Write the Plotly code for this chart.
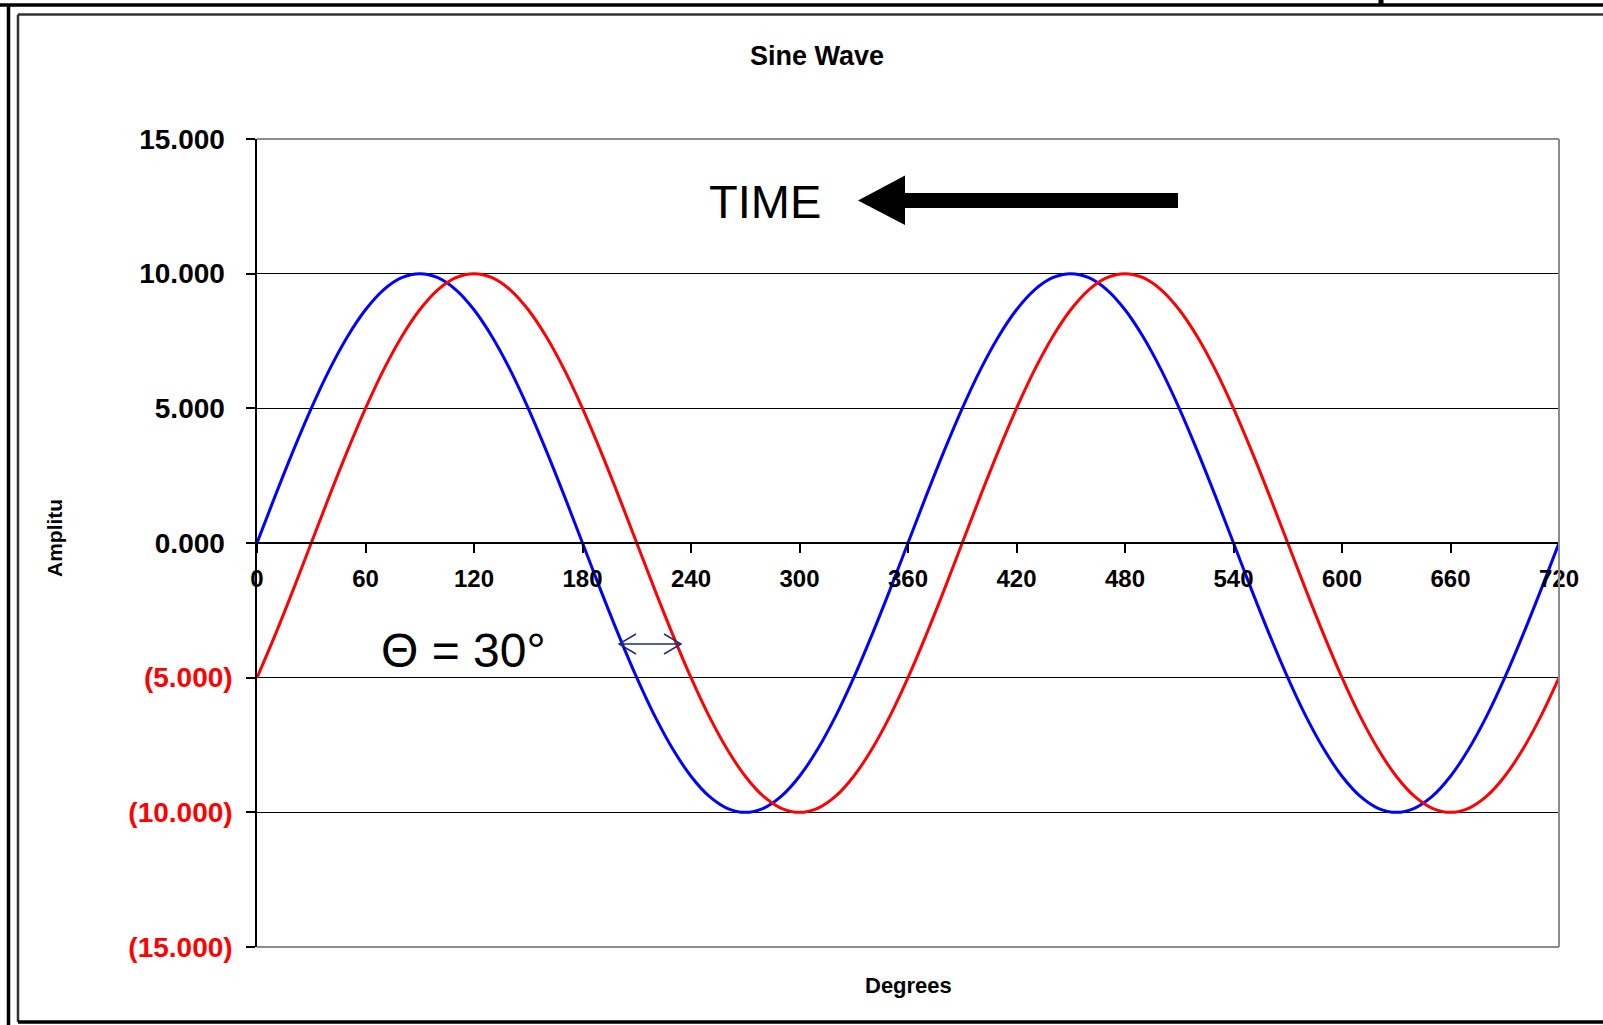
import plotly.graph_objects as go

# ---------------- data ----------------
DEGREES = list(range(0, 721, 10))

REFERENCE_WAVE = [
    0.00, 1.74, 3.42, 5.00, 6.43, 7.66, 8.66, 9.40, 9.85, 10.00, 9.85, 9.40,
    8.66, 7.66, 6.43, 5.00, 3.42, 1.74, 0.00, -1.74, -3.42, -5.00, -6.43, -7.66,
    -8.66, -9.40, -9.85, -10.00, -9.85, -9.40, -8.66, -7.66, -6.43, -5.00, -3.42, -1.74,
    0.00, 1.74, 3.42, 5.00, 6.43, 7.66, 8.66, 9.40, 9.85, 10.00, 9.85, 9.40,
    8.66, 7.66, 6.43, 5.00, 3.42, 1.74, 0.00, -1.74, -3.42, -5.00, -6.43, -7.66,
    -8.66, -9.40, -9.85, -10.00, -9.85, -9.40, -8.66, -7.66, -6.43, -5.00, -3.42, -1.74,
    0.00,
]

SHIFTED_WAVE = [
    -5.00, -3.42, -1.74, 0.00, 1.74, 3.42, 5.00, 6.43, 7.66, 8.66, 9.40, 9.85,
    10.00, 9.85, 9.40, 8.66, 7.66, 6.43, 5.00, 3.42, 1.74, 0.00, -1.74, -3.42,
    -5.00, -6.43, -7.66, -8.66, -9.40, -9.85, -10.00, -9.85, -9.40, -8.66, -7.66, -6.43,
    -5.00, -3.42, -1.74, 0.00, 1.74, 3.42, 5.00, 6.43, 7.66, 8.66, 9.40, 9.85,
    10.00, 9.85, 9.40, 8.66, 7.66, 6.43, 5.00, 3.42, 1.74, 0.00, -1.74, -3.42,
    -5.00, -6.43, -7.66, -8.66, -9.40, -9.85, -10.00, -9.85, -9.40, -8.66, -7.66, -6.43,
    -5.00,
]

X_TICKS = [0, 60, 120, 180, 240, 300, 360, 420, 480, 540, 600, 660, 720]
Y_TICKS = [15, 10, 5, 0, -5, -10, -15]
Y_TICK_TEXT = ["15.000", "10.000", "5.000", "0.000", "(5.000)", "(10.000)", "(15.000)"]

# ---------------- layout geometry (pixels) ----------------
W, H = 1603, 1025
L, R, T, B = 257, 44, 139, 78
PW, PH = W - L - R, H - T - B


def px(x):
    return (x - L) / PW


def py(y):
    return (H - B - y) / PH


FONT = "Liberation Sans, Arial, sans-serif"

fig = go.Figure()
fig.add_trace(go.Scatter(x=DEGREES, y=REFERENCE_WAVE, mode="lines",
                         line=dict(color="#0000FF", width=3, shape="spline"),
                         name="Reference"))
fig.add_trace(go.Scatter(x=DEGREES, y=SHIFTED_WAVE, mode="lines",
                         line=dict(color="#FF0000", width=3, shape="spline"),
                         name="Shifted"))

ytext = []
for v, t in zip(Y_TICKS, Y_TICK_TEXT):
    if v < 0:
        ytext.append('<span style="color:#FF0000">' + t + "</span>")
    else:
        ytext.append(t + "\u00a0")

shapes = []
# plot-area grey border (top, right, bottom)
for (x0, y0, x1, y1) in [(0, 1, 1, 1), (1, 0, 1, 1), (0, 0, 1, 0)]:
    shapes.append(dict(type="line", xref="paper", yref="paper", x0=x0, y0=y0, x1=x1, y1=y1,
                       line=dict(color="#8C8C8C", width=2), layer="above"))


def pline(x0, y0, x1, y1, color, width):
    shapes.append(dict(type="line", xref="paper", yref="paper",
                       x0=px(x0), y0=py(y0), x1=px(x1), y1=py(y1),
                       line=dict(color=color, width=width), layer="above"))


# outer frame
pline(0, 5, W, 5, "#000000", 3.5)
pline(8.5, 5, 8.5, H, "#000000", 3.5)
pline(18, 14.5, W, 14.5, "#333333", 2.5)
pline(18, 14.5, 18, 1022, "#333333", 2.5)
pline(18, 1022, W, 1022, "#000000", 3.5)
pline(1381, 0, 1381, 6, "#000000", 5)

# TIME arrow (shaft + head)
shapes.append(dict(type="rect", xref="paper", yref="paper",
                   x0=px(903), x1=px(1178), y0=py(208), y1=py(193),
                   fillcolor="#000000", line=dict(width=0), layer="above"))
shapes.append(dict(type="path", xref="paper", yref="paper",
                   path=f"M {px(858)} {py(200.5)} L {px(905)} {py(175.5)} L {px(905)} {py(225)} Z",
                   fillcolor="#000000", line=dict(width=0), layer="above"))

# theta double arrow
NAVY = "#1F2F6B"
pline(619, 644, 681, 644, NAVY, 1.5)
shapes.append(dict(type="path", xref="paper", yref="paper",
                   path=f"M {px(636)} {py(634)} L {px(619)} {py(644)} L {px(636)} {py(654)}",
                   line=dict(color=NAVY, width=1.5), layer="above"))
shapes.append(dict(type="path", xref="paper", yref="paper",
                   path=f"M {px(664)} {py(634)} L {px(681)} {py(644)} L {px(664)} {py(654)}",
                   line=dict(color=NAVY, width=1.5), layer="above"))

annotations = [
    dict(text="Sine Wave", xref="paper", yref="paper", x=px(817), y=py(56),
         showarrow=False, xanchor="center", yanchor="middle",
         font=dict(family=FONT, size=27, color="#000000", weight="bold")),
    dict(text="Degrees", xref="paper", yref="paper", x=px(908), y=py(985),
         showarrow=False, xanchor="center", yanchor="middle",
         font=dict(family=FONT, size=22, color="#000000", weight="bold")),
    dict(text="Amplitu", xref="paper", yref="paper", x=px(54), y=py(538),
         showarrow=False, xanchor="center", yanchor="middle", textangle=-90,
         font=dict(family=FONT, size=21, color="#000000", weight="bold")),
    dict(text="TIME", xref="paper", yref="paper", x=px(765), y=py(202),
         showarrow=False, xanchor="center", yanchor="middle",
         font=dict(family=FONT, size=47, color="#000000")),
    dict(text="\u0398 = 30\u00b0", xref="paper", yref="paper", x=px(463), y=py(650),
         showarrow=False, xanchor="center", yanchor="middle",
         font=dict(family=FONT, size=48, color="#000000")),
]

fig.update_layout(
    width=W, height=H,
    margin=dict(l=L, r=R, t=T, b=B, pad=0),
    paper_bgcolor="#FFFFFF", plot_bgcolor="#FFFFFF",
    showlegend=False,
    shapes=shapes,
    annotations=annotations,
    xaxis=dict(range=[0, 720], tickvals=X_TICKS, ticktext=[str(v) for v in X_TICKS],
               showgrid=False, zeroline=False, showline=True, linecolor="#000000", linewidth=1.5,
               ticks="outside", ticklen=9, tickwidth=1.5, tickcolor="#000000",
               anchor="free", position=0.5, ticklabelstandoff=5,
               tickfont=dict(family=FONT, size=24, color="#000000", weight="bold")),
    yaxis=dict(range=[-15, 15], tickvals=Y_TICKS, ticktext=ytext,
               showgrid=True, gridcolor="#000000", gridwidth=1,
               zeroline=False, showline=True, linecolor="#000000", linewidth=1.5,
               ticks="outside", ticklen=9, tickwidth=1.5, tickcolor="#000000",
               ticklabelstandoff=8,
               tickfont=dict(family=FONT, size=28, color="#000000", weight="bold")),
)

fig.write_html("out.html", config={"displayModeBar": False},
               post_script="document.body.style.margin='0px';document.body.style.overflow='hidden';")
